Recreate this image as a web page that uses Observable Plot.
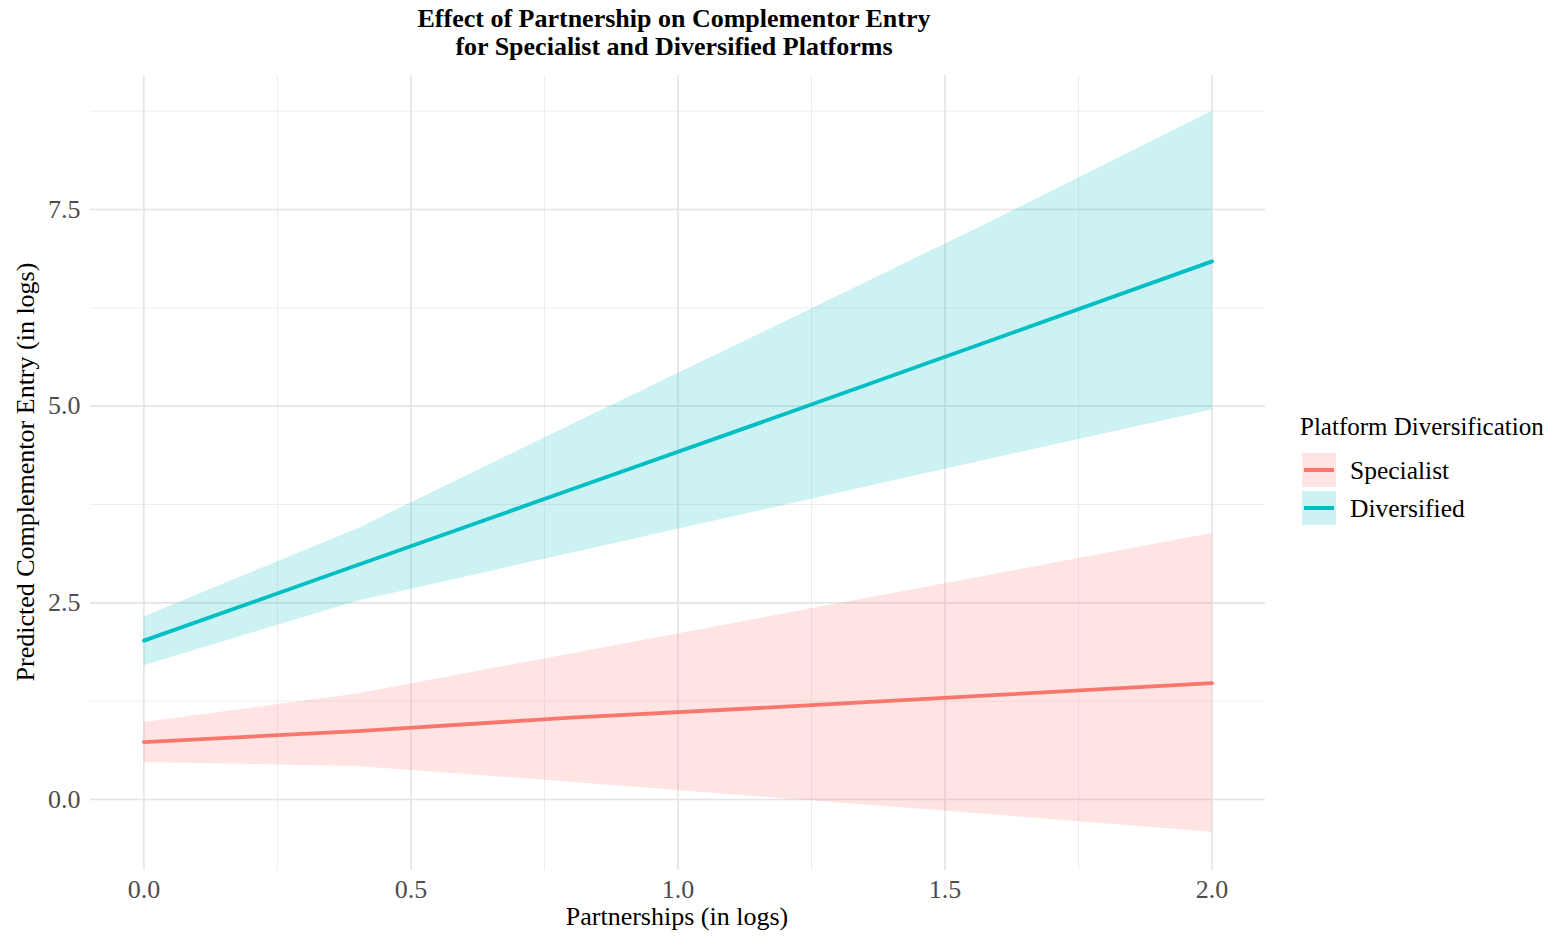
<!DOCTYPE html>
<html><head><meta charset="utf-8">
<script src="https://cdn.jsdelivr.net/npm/d3@7"></script>
<script src="https://cdn.jsdelivr.net/npm/@observablehq/plot@0.6"></script>
<style>
body{margin:0;background:#fff;}
#wrap{position:relative;width:1562px;height:937px;font-family:"Liberation Serif","Times New Roman",serif;overflow:hidden;}
.t{position:absolute;white-space:nowrap;line-height:1;color:#000;}
.key{position:absolute;width:34px;height:34px;}
.key i{position:absolute;left:2px;right:2px;top:15px;height:4px;display:block;}
</style></head><body><div id="wrap"></div>
<script>
// Data
const partnerships = [0, 0.4, 0.8, 1.2, 1.6, 2.0];
const specialistFit = [0.73, 0.87, 1.04, 1.18, 1.33, 1.48];
const specialistLower = [0.47, 0.42, 0.22, 0.01, -0.20, -0.415];
const specialistUpper = [0.98, 1.34, 1.85, 2.36, 2.87, 3.38];
const diversifiedFit = [2.02, 2.98, 3.94, 4.90, 5.87, 6.84];
const diversifiedLower = [1.70, 2.52, 3.13, 3.74, 4.35, 4.95];
const diversifiedUpper = [2.32, 3.44, 4.76, 6.07, 7.39, 8.75];
const groups = ["Specialist", "Diversified"];
const colors = ["#F8766D", "#00BFC4"];
const xTicks = [0, 0.5, 1, 1.5, 2];
const xMinor = [0.25, 0.75, 1.25, 1.75];
const yTicks = [0, 2.5, 5, 7.5];
const yMinor = [1.25, 3.75, 6.25, 8.75];
const titleLines = ["Effect of Partnership on Complementor Entry", "for Specialist and Diversified Platforms"];
const xLabel = "Partnerships (in logs)";
const yLabel = "Predicted Complementor Entry (in logs)";
const legendTitle = "Platform Diversification";

const series = {
  Specialist: {fit: specialistFit, lower: specialistLower, upper: specialistUpper},
  Diversified: {fit: diversifiedFit, lower: diversifiedLower, upper: diversifiedUpper}
};
const rows = [];
for (const g of groups) {
  partnerships.forEach((x, i) => rows.push({x, group: g, fit: series[g].fit[i], lower: series[g].lower[i], upper: series[g].upper[i]}));
}

const chart = Plot.plot({
  width: 1562, height: 937,
  marginLeft: 90, marginRight: 297, marginTop: 75, marginBottom: 67,
  x: {domain: [-0.1, 2.1]},
  y: {domain: [-0.9025, 9.203]},
  color: {domain: groups, range: colors},
  style: {fontFamily: "'Liberation Serif', 'Times New Roman', serif", background: "white"},
  marks: [
    Plot.gridY(yMinor, {stroke: "#ebebeb", strokeOpacity: 1, strokeWidth: 0.9}),
    Plot.gridX(xMinor, {stroke: "#ebebeb", strokeOpacity: 1, strokeWidth: 0.9}),
    Plot.gridY(yTicks, {stroke: "#e4e4e4", strokeOpacity: 1, strokeWidth: 1.6}),
    Plot.gridX(xTicks, {stroke: "#e4e4e4", strokeOpacity: 1, strokeWidth: 1.6}),
    Plot.areaY(rows, {x: "x", y1: "lower", y2: "upper", fill: "group", z: "group", fillOpacity: 0.2}),
    Plot.lineY(rows, {x: "x", y: "fit", stroke: "group", z: "group", strokeWidth: 3.8}),
    Plot.axisX(xTicks, {tickSize: 0, tickPadding: 9, tickFormat: d => d.toFixed(1), fontSize: 26, fill: "#4d4d4d", label: null}),
    Plot.axisY(yTicks, {tickSize: 0, tickPadding: 10, tickFormat: d => d.toFixed(1), fontSize: 26, fill: "#4d4d4d", label: null})
  ]
});

const wrap = document.getElementById("wrap");
wrap.appendChild(chart);

function addText(txt, css) {
  const d = document.createElement("div");
  d.className = "t";
  d.textContent = txt;
  Object.assign(d.style, css);
  wrap.appendChild(d);
  return d;
}
// Title
titleLines.forEach((line, i) => addText(line, {left: "674px", top: (6 + i * 28) + "px", transform: "translateX(-50%)", fontWeight: "bold", fontSize: "26px"}));
// Axis titles
addText(xLabel, {left: "677px", top: "904px", transform: "translateX(-50%)", fontSize: "26px"});
addText(yLabel, {left: "26px", top: "472px", transform: "translate(-50%,-50%) rotate(-90deg)", fontSize: "26px"});
// Legend
addText(legendTitle, {left: "1300px", top: "414px", fontSize: "25px"});
groups.forEach((g, i) => {
  const k = document.createElement("div");
  k.className = "key";
  k.style.left = "1302px";
  k.style.top = (453 + i * 38) + "px";
  k.style.background = d3.color(colors[i]).copy({opacity: 0.2}).toString();
  const ln = document.createElement("i");
  ln.style.background = colors[i];
  k.appendChild(ln);
  wrap.appendChild(k);
  addText(g, {left: "1350px", top: (458 + i * 38) + "px", fontSize: "25.5px"});
});
</script>
</body></html>
